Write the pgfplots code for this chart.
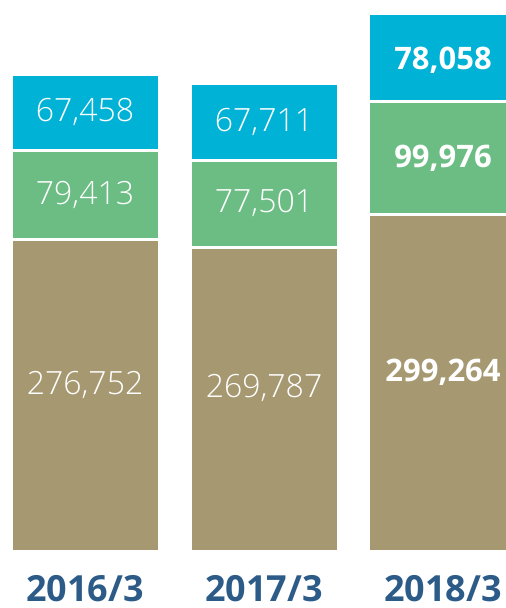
\documentclass[border=0pt]{standalone}
\usepackage{pgfplots}
\pgfplotsset{compat=1.18}
\usepackage{fontspec}
\setmainfont{Open Sans}
\newfontfamily\lightfont{Open Sans Light}
\definecolor{cblue}{HTML}{00B2D6}
\definecolor{cgreen}{HTML}{6BBD84}
\definecolor{ctan}{HTML}{A69870}
\definecolor{cnavy}{HTML}{2D5B88}
\begin{document}
\begin{tikzpicture}
\begin{axis}[
  at={(0,0)}, anchor=south west,
  scale only axis, width=253pt, height=304pt,
  xmin=-0.475, xmax=2.352,
  ymin=-49650, ymax=489400,
  hide axis, clip=true,
  ybar stacked, bar width=0.827,
]
\addplot[fill=ctan, draw=white, line width=1.5pt] coordinates {(0,276752) (1,269787) (2,299264)};
\addplot[fill=cgreen, draw=white, line width=1.5pt] coordinates {(0,79413) (1,77501) (2,99976)};
\addplot[fill=cblue, draw=white, line width=1.5pt] coordinates {(0,67458) (1,67711) (2,78058)};
\coordinate (a1) at (axis cs:0,148050);
\coordinate (a2) at (axis cs:0,316458);
\coordinate (a3) at (axis cs:0,389894);
\coordinate (b1) at (axis cs:1,145390);
\coordinate (b2) at (axis cs:1,309500);
\coordinate (b3) at (axis cs:1,381144);
\coordinate (c1) at (axis cs:2,159570);
\coordinate (c2) at (axis cs:2,349252);
\coordinate (c3) at (axis cs:2,436170);
\coordinate (y0) at (axis cs:0,-43500);
\coordinate (y1) at (axis cs:1,-43500);
\coordinate (y2) at (axis cs:2,-43500);
\end{axis}
\begin{scope}[every node/.style={white, font=\lightfont\fontsize{16}{18}\selectfont}]
\node at (a1) {276,752};
\node at (a2) {79,413};
\node at (a3) {67,458};
\node at (b1) {269,787};
\node at (b2) {77,501};
\node at (b3) {67,711};
\end{scope}
\begin{scope}[every node/.style={white, font=\bfseries\fontsize{15.5}{18}\selectfont}]
\node at (c1) {299,264};
\node at (c2) {99,976};
\node at (c3) {78,058};
\end{scope}
\begin{scope}[every node/.style={cnavy, anchor=base, font=\bfseries\fontsize{18}{20}\selectfont}]
\node at (y0) {2016/3};
\node at (y1) {2017/3};
\node at (y2) {2018/3};
\end{scope}
\pgfresetboundingbox
\path (0,0) rectangle (253pt,304pt);
\end{tikzpicture}
\end{document}
